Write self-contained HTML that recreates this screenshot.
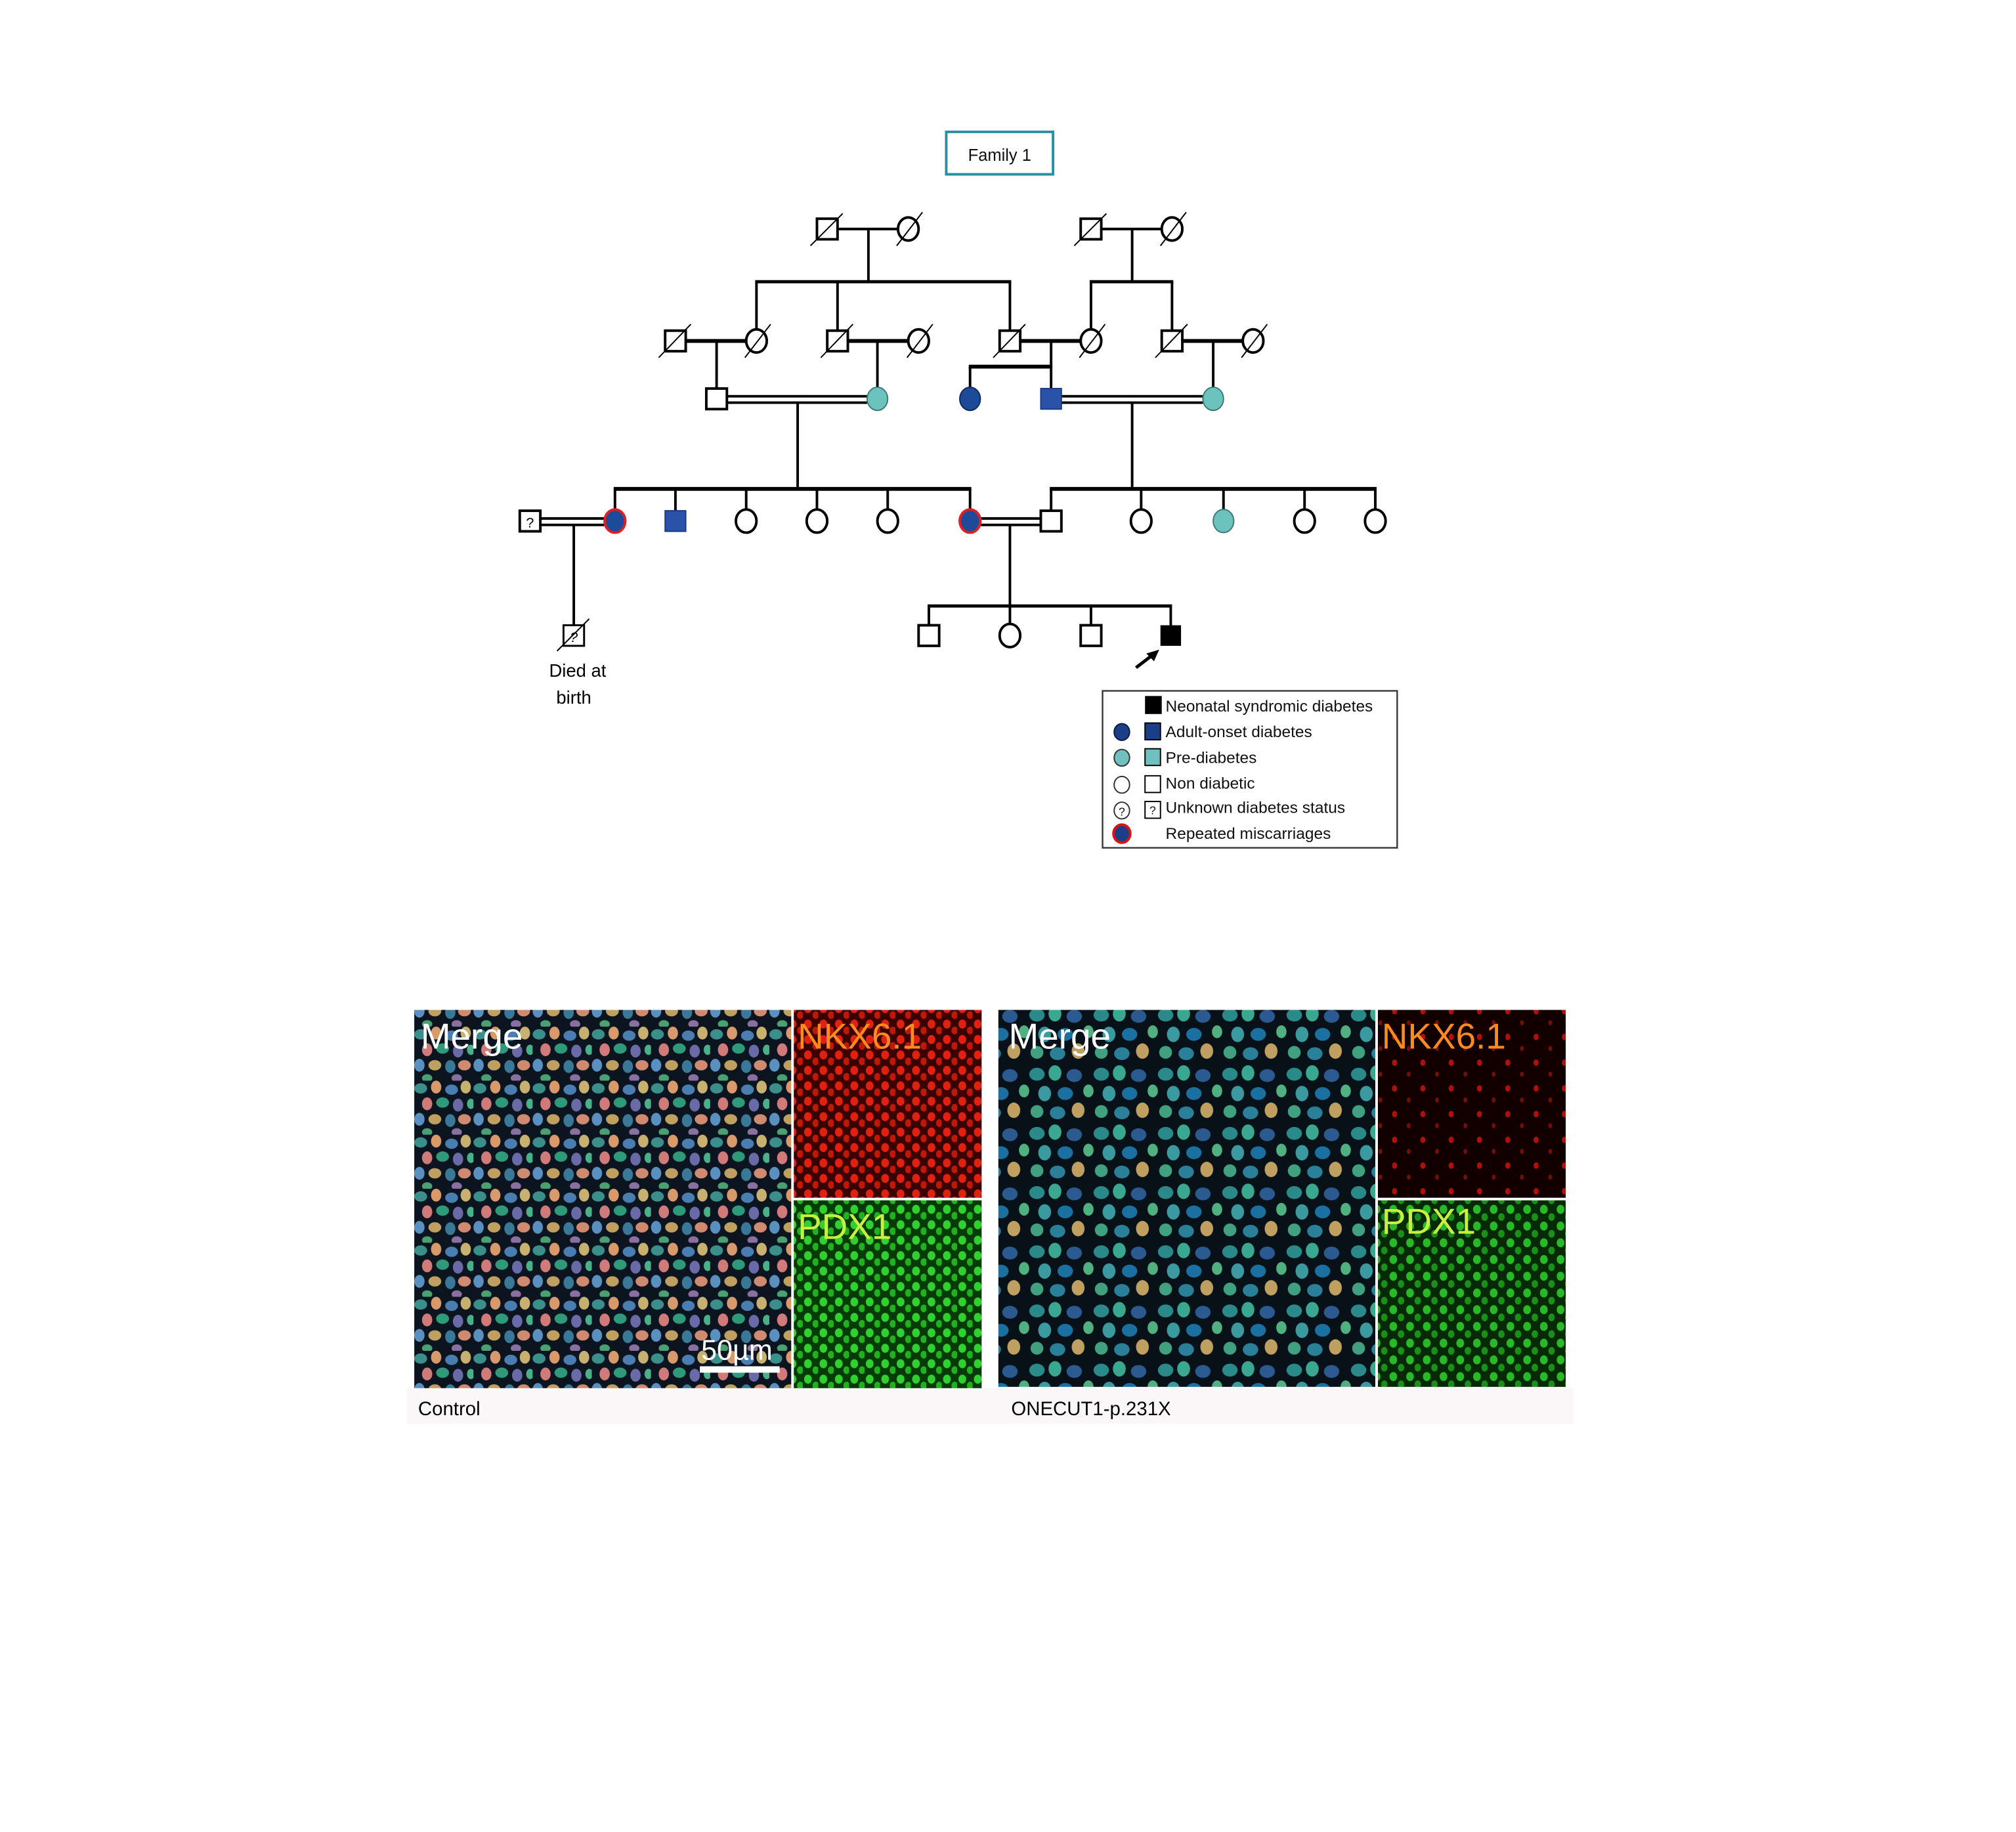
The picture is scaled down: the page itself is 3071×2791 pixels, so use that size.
<!DOCTYPE html>
<html><head><meta charset="utf-8"><style>html,body{margin:0;padding:0;background:#fff}svg{display:block}</style></head>
<body>
<svg width="3071" height="2791" viewBox="0 0 1567 1424" preserveAspectRatio="none" xmlns="http://www.w3.org/2000/svg" font-family="Liberation Sans, sans-serif">
<defs>
<pattern id="merge" width="46" height="42" patternUnits="userSpaceOnUse">
<rect width="46" height="42" fill="#0c1420"/>
<ellipse cx="5" cy="6" rx="5" ry="4" fill="#3a8f8a"/><ellipse cx="17" cy="5" rx="4" ry="5" fill="#d89a6a"/>
<ellipse cx="29" cy="7" rx="5" ry="4" fill="#4a7db0"/><ellipse cx="40" cy="5" rx="4" ry="5" fill="#c8b070"/>
<ellipse cx="10" cy="18" rx="4" ry="5" fill="#d07a7a"/><ellipse cx="22" cy="17" rx="5" ry="4" fill="#2f9a7a"/>
<ellipse cx="34" cy="19" rx="4" ry="5" fill="#6a6aa8"/><ellipse cx="44" cy="18" rx="3" ry="4" fill="#4ab08a"/>
<ellipse cx="4" cy="30" rx="4" ry="5" fill="#5a90c0"/><ellipse cx="16" cy="30" rx="5" ry="4" fill="#c0a060"/>
<ellipse cx="28" cy="31" rx="4" ry="5" fill="#3a7898"/><ellipse cx="39" cy="30" rx="5" ry="4" fill="#d08a70"/>
<ellipse cx="10" cy="40" rx="4" ry="3" fill="#4aa070"/><ellipse cx="33" cy="40" rx="4" ry="3" fill="#8a70a0"/>
</pattern>
<pattern id="merge2" width="50" height="46" patternUnits="userSpaceOnUse">
<rect width="50" height="46" fill="#081018"/>
<ellipse cx="6" cy="7" rx="6" ry="5" fill="#2a8a8a"/><ellipse cx="20" cy="6" rx="5" ry="6" fill="#3aa890"/>
<ellipse cx="35" cy="8" rx="6" ry="5" fill="#2a5a90"/><ellipse cx="46" cy="20" rx="4" ry="5" fill="#50b080"/>
<ellipse cx="12" cy="22" rx="5" ry="6" fill="#3a9aa0"/><ellipse cx="28" cy="22" rx="6" ry="5" fill="#1a70a0"/>
<ellipse cx="6" cy="36" rx="5" ry="5" fill="#40a080"/><ellipse cx="22" cy="37" rx="6" ry="5" fill="#2a8098"/>
<ellipse cx="38" cy="35" rx="5" ry="6" fill="#c0a060"/>
</pattern>
<pattern id="red1" width="12" height="12" patternUnits="userSpaceOnUse">
<rect width="12" height="12" fill="#3a0000"/><ellipse cx="4" cy="4" rx="3" ry="3.5" fill="#e02010"/><ellipse cx="10" cy="9" rx="2.5" ry="3" fill="#c01808"/>
</pattern>
<pattern id="red2" width="22" height="20" patternUnits="userSpaceOnUse">
<rect width="22" height="20" fill="#120000"/><ellipse cx="6" cy="6" rx="2" ry="2.5" fill="#b01008"/><ellipse cx="17" cy="15" rx="1.5" ry="2" fill="#701008"/>
</pattern>
<pattern id="grn1" width="12" height="12" patternUnits="userSpaceOnUse">
<rect width="12" height="12" fill="#063a06"/><ellipse cx="4" cy="4" rx="3" ry="3.5" fill="#30d030"/><ellipse cx="10" cy="9" rx="2.5" ry="3" fill="#20b020"/>
</pattern>
<pattern id="grn2" width="13" height="13" patternUnits="userSpaceOnUse">
<rect width="13" height="13" fill="#052a05"/><ellipse cx="4" cy="4" rx="3" ry="3.5" fill="#28b828"/><ellipse cx="10" cy="10" rx="2.5" ry="3" fill="#1a901a"/>
</pattern>
</defs>

<rect x="735.5" y="102.5" width="83" height="33" fill="#fff" stroke="#2a90a0" stroke-width="2"/>
<text x="777" y="125" font-size="13" text-anchor="middle" fill="#111">Family 1</text>

<g stroke="#000" fill="none" stroke-width="2">
<line x1="651" y1="178" x2="698" y2="178"/><line x1="675" y1="178" x2="675" y2="219"/>
<line x1="587" y1="219" x2="786" y2="219" stroke-width="2.5"/>
<line x1="856" y1="178" x2="903" y2="178"/><line x1="880" y1="178" x2="880" y2="219"/>
<line x1="847" y1="219" x2="912" y2="219" stroke-width="2.5"/>
<line x1="588" y1="219" x2="588" y2="257"/><line x1="651" y1="219" x2="651" y2="257"/><line x1="785" y1="219" x2="785" y2="257"/>
<line x1="848" y1="219" x2="848" y2="257"/><line x1="911" y1="219" x2="911" y2="257"/>
<line x1="533" y1="265" x2="580" y2="265" stroke-width="3"/><line x1="557" y1="265" x2="557" y2="302"/>
<line x1="659" y1="265" x2="706" y2="265" stroke-width="3"/><line x1="682" y1="265" x2="682" y2="302"/>
<line x1="793" y1="265" x2="840" y2="265" stroke-width="3"/><line x1="817" y1="265" x2="817" y2="302"/>
<line x1="753" y1="285" x2="818" y2="285" stroke-width="3"/><line x1="754" y1="285" x2="754" y2="302"/>
<line x1="919" y1="265" x2="966" y2="265" stroke-width="3"/><line x1="943" y1="265" x2="943" y2="302"/>
<line x1="565" y1="308" x2="674" y2="308"/><line x1="565" y1="313" x2="674" y2="313"/>
<line x1="825" y1="308" x2="935" y2="308"/><line x1="825" y1="313" x2="935" y2="313"/>
<line x1="620" y1="313" x2="620" y2="380"/><line x1="880" y1="313" x2="880" y2="380"/>
<line x1="477" y1="380" x2="755" y2="380" stroke-width="3"/>
<line x1="816" y1="380" x2="1070" y2="380" stroke-width="3"/>
<line x1="478" y1="380" x2="478" y2="396"/><line x1="525" y1="380" x2="525" y2="397"/><line x1="580" y1="380" x2="580" y2="396"/>
<line x1="635" y1="380" x2="635" y2="396"/><line x1="690" y1="380" x2="690" y2="396"/><line x1="754" y1="380" x2="754" y2="396"/>
<line x1="817" y1="380" x2="817" y2="397"/><line x1="887" y1="380" x2="887" y2="396"/><line x1="951" y1="380" x2="951" y2="396"/>
<line x1="1014" y1="380" x2="1014" y2="396"/><line x1="1069" y1="380" x2="1069" y2="396"/>
<line x1="420" y1="403" x2="470" y2="403"/><line x1="420" y1="408" x2="470" y2="408"/>
<line x1="446" y1="408" x2="446" y2="486"/>
<line x1="762" y1="403" x2="809" y2="403"/><line x1="762" y1="408" x2="809" y2="408"/>
<line x1="785" y1="408" x2="785" y2="486"/>
<line x1="721" y1="471" x2="911" y2="471" stroke-width="2.5"/>
<line x1="722" y1="471" x2="722" y2="486"/><line x1="848" y1="471" x2="848" y2="486"/><line x1="910" y1="471" x2="910" y2="486"/>
</g>

<g stroke="#000" stroke-width="2" fill="#fff">
<rect x="635" y="170" width="16" height="16"/><ellipse cx="706" cy="178" rx="8" ry="9"/>
<rect x="840" y="170" width="16" height="16"/><ellipse cx="911" cy="178" rx="8" ry="9"/>
<rect x="517" y="257" width="16" height="16"/><ellipse cx="588" cy="265" rx="8" ry="9"/>
<rect x="643" y="257" width="16" height="16"/><ellipse cx="714" cy="265" rx="8" ry="9"/>
<rect x="777" y="257" width="16" height="16"/><ellipse cx="848" cy="265" rx="8" ry="9"/>
<rect x="903" y="257" width="16" height="16"/><ellipse cx="974" cy="265" rx="8" ry="9"/>
</g>
<g stroke="#000" stroke-width="1">
<line x1="630" y1="191" x2="655" y2="166"/><line x1="697" y1="191" x2="717" y2="165"/>
<line x1="835" y1="191" x2="860" y2="166"/><line x1="902" y1="191" x2="922" y2="165"/>
<line x1="512" y1="278" x2="537" y2="252"/><line x1="579" y1="278" x2="599" y2="252"/>
<line x1="638" y1="278" x2="663" y2="252"/><line x1="705" y1="278" x2="725" y2="252"/>
<line x1="772" y1="278" x2="797" y2="252"/><line x1="839" y1="278" x2="859" y2="252"/>
<line x1="898" y1="278" x2="923" y2="252"/><line x1="965" y1="278" x2="985" y2="252"/>
</g>

<rect x="549" y="302" width="16" height="16" fill="#fff" stroke="#000" stroke-width="2"/>
<ellipse cx="682" cy="310" rx="8" ry="9" fill="#6cc2bc" stroke="#3a7a78" stroke-width="1"/>
<ellipse cx="754" cy="310" rx="8" ry="9" fill="#1e4a9a" stroke="#0e2a60" stroke-width="1"/>
<rect x="809" y="302" width="16" height="16" fill="#2a52a8" stroke="#1a3a80" stroke-width="1"/>
<ellipse cx="943" cy="310" rx="8" ry="9" fill="#6cc2bc" stroke="#3a7a78" stroke-width="1"/>

<rect x="404" y="397" width="16" height="16" fill="#fff" stroke="#000" stroke-width="2"/>
<text x="412" y="410" font-size="11" text-anchor="middle">?</text>
<ellipse cx="478" cy="405" rx="8" ry="9" fill="#1e4a9a" stroke="#e02020" stroke-width="2"/>
<rect x="517" y="397" width="16" height="16" fill="#2a52a8" stroke="#1a3a80" stroke-width="1"/>
<g fill="#fff" stroke="#000" stroke-width="2">
<ellipse cx="580" cy="405" rx="8" ry="9"/><ellipse cx="635" cy="405" rx="8" ry="9"/><ellipse cx="690" cy="405" rx="8" ry="9"/>
<rect x="809" y="397" width="16" height="16"/><ellipse cx="887" cy="405" rx="8" ry="9"/>
<ellipse cx="1014" cy="405" rx="8" ry="9"/><ellipse cx="1069" cy="405" rx="8" ry="9"/>
<rect x="714" y="486" width="16" height="16"/><ellipse cx="785" cy="494" rx="8" ry="9"/><rect x="840" y="486" width="16" height="16"/>
</g>
<ellipse cx="754" cy="405" rx="8" ry="9" fill="#1e4a9a" stroke="#e02020" stroke-width="2"/>
<ellipse cx="951" cy="405" rx="8" ry="9" fill="#6cc2bc" stroke="#3a7a78" stroke-width="1"/>
<rect x="902" y="486" width="16" height="16" fill="#000"/>
<rect x="438" y="486" width="16" height="16" fill="#fff" stroke="#000" stroke-width="1.5"/>
<text x="446" y="499" font-size="11" text-anchor="middle" font-style="italic">?</text>
<line x1="433" y1="506" x2="458" y2="481" stroke="#000" stroke-width="1"/>
<line x1="883" y1="519" x2="896" y2="509" stroke="#000" stroke-width="2.5"/>
<polygon points="901,505 891,508 897,514" fill="#000"/>
<text x="449" y="526" font-size="14" text-anchor="middle">Died at</text>
<text x="446" y="547" font-size="14" text-anchor="middle">birth</text>

<rect x="857" y="537" width="229" height="122" fill="#fff" stroke="#333" stroke-width="1.2"/>
<g font-size="12.5" fill="#111">
<rect x="890" y="541" width="13" height="14" fill="#000"/><text x="906" y="553">Neonatal syndromic diabetes</text>
<ellipse cx="872" cy="569" rx="6" ry="6.5" fill="#1a3f86" stroke="#0a1a40"/><rect x="890" y="562" width="12" height="13" fill="#1a3f86" stroke="#000"/><text x="906" y="573">Adult-onset diabetes</text>
<ellipse cx="872" cy="589" rx="6" ry="6.5" fill="#70c0c0" stroke="#333"/><rect x="890" y="582" width="12" height="13" fill="#70c0c0" stroke="#000"/><text x="906" y="593">Pre-diabetes</text>
<ellipse cx="872" cy="610" rx="6" ry="6.5" fill="#fff" stroke="#333"/><rect x="890" y="603" width="12" height="13" fill="#fff" stroke="#000"/><text x="906" y="613">Non diabetic</text>
<ellipse cx="872" cy="630" rx="6" ry="6.5" fill="#fff" stroke="#333"/><text x="872" y="634" font-size="9" text-anchor="middle">?</text>
<rect x="890" y="623" width="12" height="13" fill="#fff" stroke="#000"/><text x="896" y="633" font-size="9" text-anchor="middle">?</text><text x="906" y="632">Unknown diabetes status</text>
<ellipse cx="872" cy="648" rx="6.5" ry="7" fill="#1a3f86" stroke="#e01010" stroke-width="2"/><text x="906" y="652">Repeated miscarriages</text>
</g>

<rect x="316" y="1079" width="907" height="28" fill="#fbf7f8"/>
<rect x="322" y="785" width="293" height="294" fill="url(#merge)"/>
<rect x="617" y="785" width="146" height="146" fill="url(#red1)"/>
<rect x="617" y="933" width="146" height="146" fill="url(#grn1)"/>
<rect x="776" y="785" width="293" height="293" fill="url(#merge2)"/>
<rect x="1071" y="785" width="146" height="146" fill="url(#red2)"/>
<rect x="1071" y="933" width="146" height="145" fill="url(#grn2)"/>
<g font-size="28">
<text x="327" y="815" fill="#fff">Merge</text>
<text x="620" y="815" fill="#ff8a20">NKX6.1</text>
<text x="620" y="963" fill="#c8f040">PDX1</text>
<text x="784" y="815" fill="#fff">Merge</text>
<text x="1074" y="815" fill="#ff8a20">NKX6.1</text>
<text x="1074" y="959" fill="#c8f040">PDX1</text>
<text x="545" y="1057" fill="#fff" font-size="22">50µm</text>
</g>
<rect x="544" y="1062" width="62" height="5" fill="#fff"/>
<text x="325" y="1100" font-size="15" fill="#000">Control</text>
<text x="786" y="1100" font-size="15" fill="#000">ONECUT1-p.231X</text>
</svg>
</body></html>
